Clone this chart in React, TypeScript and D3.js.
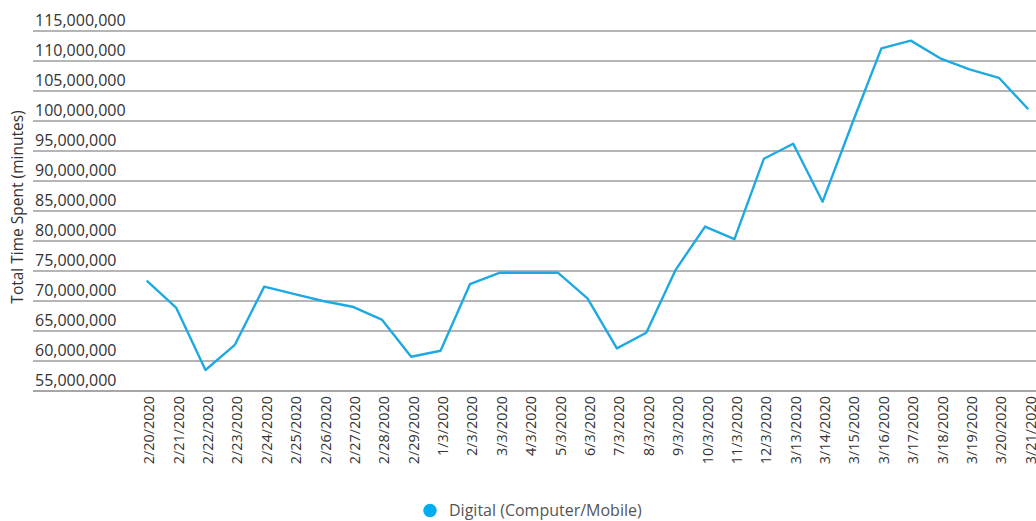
import React from "react";
import * as d3 from "d3";

const categories = [
  "2/20/2020", "2/21/2020", "2/22/2020", "2/23/2020", "2/24/2020", "2/25/2020",
  "2/26/2020", "2/27/2020", "2/28/2020", "2/29/2020", "1/3/2020", "2/3/2020",
  "3/3/2020", "4/3/2020", "5/3/2020", "6/3/2020", "7/3/2020", "8/3/2020",
  "9/3/2020", "10/3/2020", "11/3/2020", "12/3/2020", "3/13/2020", "3/14/2020",
  "3/15/2020", "3/16/2020", "3/17/2020", "3/18/2020", "3/19/2020", "3/20/2020",
  "3/21/2020",
];

const digitalValues = [
  73400000, 68900000, 58500000, 62700000, 72400000, 71200000,
  70000000, 69050000, 66900000, 60700000, 61700000, 72800000,
  74700000, 74700000, 74700000, 70450000, 62100000, 64700000,
  75200000, 82400000, 80300000, 93700000, 96200000, 86550000,
  99500000, 112100000, 113400000, 110450000, 108600000, 107200000,
  101950000,
];

const yTicks = [
  55000000, 60000000, 65000000, 70000000, 75000000, 80000000, 85000000,
  90000000, 95000000, 100000000, 105000000, 110000000, 115000000,
];

const seriesName = "Digital (Computer/Mobile)";
const yTitle = "Total Time Spent (minutes)";

const W = 1036;
const H = 521;
const FONT = "'Open Sans', sans-serif";

export default function App() {
  const x = d3.scaleBand<string>().domain(categories).range([132, 1043]).padding(0);
  const y = d3.scaleLinear().domain([55000000, 115000000]).range([391, 31]);
  const fmt = d3.format(",");
  const cx = (c: string) => (x(c) as number) + x.bandwidth() / 2;

  const line = d3
    .line<number>()
    .x((_, i) => cx(categories[i]))
    .y((d) => y(d));

  return (
    <svg
      width={W}
      height={H}
      style={{ position: "absolute", left: 0, top: 0, background: "#fff" }}
      fontFamily={FONT}
    >
      {yTicks.map((t) => (
        <g key={t}>
          <line
            x1={33}
            x2={W}
            y1={y(t)}
            y2={y(t)}
            stroke={t === 55000000 ? "#a6a6a6" : "#9c9c9c"}
            strokeWidth={t === 55000000 ? 2 : 1.4}
          />
          <text x={35} y={y(t) - 5} fontSize={16} fill="#333">
            {fmt(t)}
          </text>
        </g>
      ))}
      <text
        transform={`translate(23,207) rotate(-90)`}
        textAnchor="middle"
        fontSize={15.5}
        fill="#333"
      >
        {yTitle}
      </text>
      {categories.map((c) => (
        <text
          key={c}
          transform={`translate(${cx(c) + 7.5},396) rotate(-90)`}
          textAnchor="end"
          fontSize={14.4}
          fill="#333"
        >
          {c}
        </text>
      ))}
      <path
        d={line(digitalValues) || ""}
        fill="none"
        stroke="#1fa9e1"
        strokeWidth={2.4}
        strokeLinejoin="round"
      />
      <circle cx={430} cy={510.5} r={6.7} fill="#00aeef" />
      <text x={449} y={516} fontSize={16} fill="#555">
        {seriesName}
      </text>
    </svg>
  );
}
